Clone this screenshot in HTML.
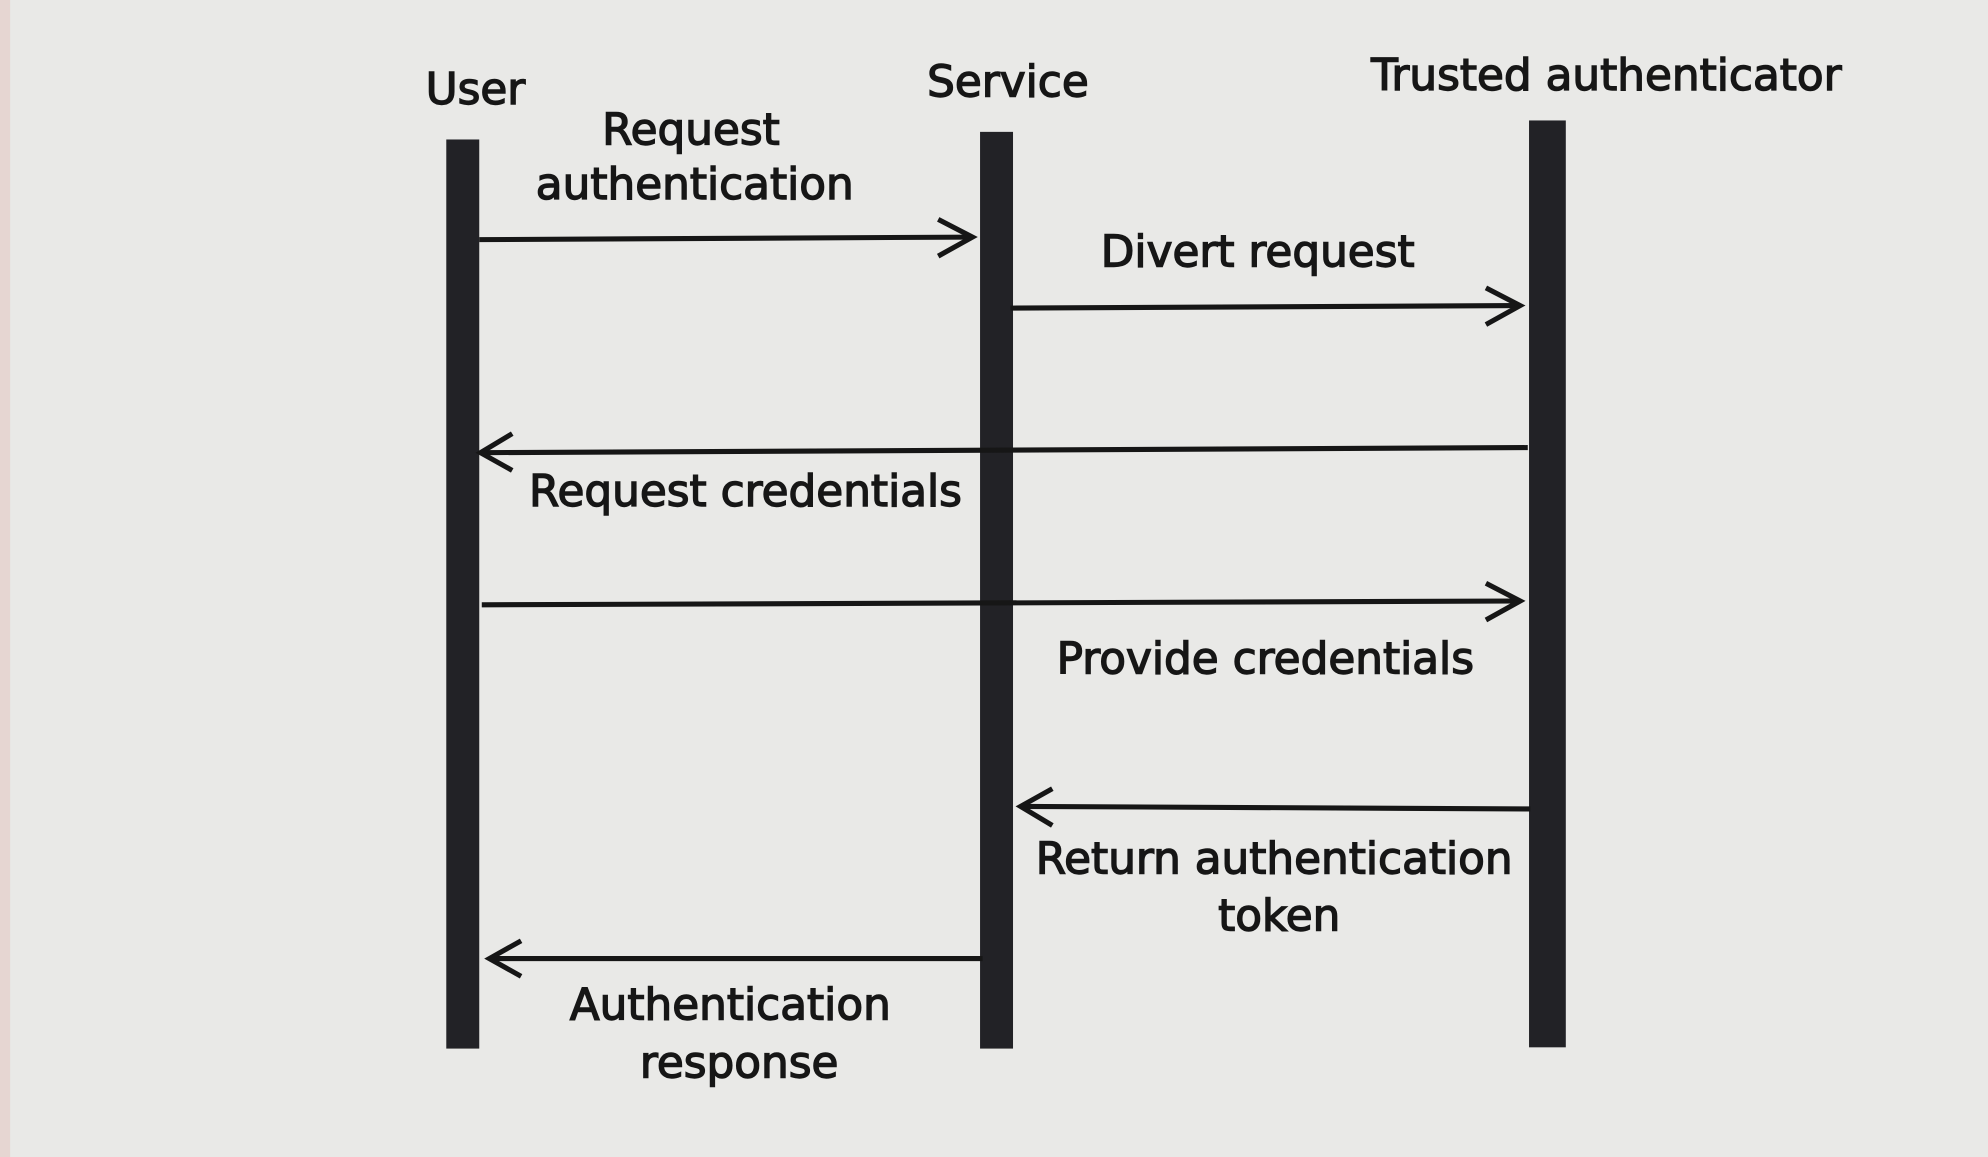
<!DOCTYPE html>
<html><head><meta charset="utf-8"><style>
html,body{margin:0;padding:0;background:#e9e9e7;}
svg{display:block;}
text{font-family:"DejaVu Sans","Liberation Sans",sans-serif;font-size:34.5px;fill:#161616;text-anchor:middle;stroke:#161616;stroke-width:1.1px;}
</style></head><body>
<svg width="1988" height="1157" viewBox="0 0 1568 912.5" preserveAspectRatio="none">
<rect x="0" y="0" width="1568" height="912.5" fill="#e9e9e7"/>
<rect x="0" y="0" width="8" height="912.5" fill="#e6d6d2"/>
<g fill="#222226">
<rect x="352" y="110" width="26" height="717"/>
<rect x="773" y="104" width="26" height="723"/>
<rect x="1206" y="95" width="29" height="731"/>
</g>
<text x="375" y="82">User</text>
<text x="795" y="76">Service</text>
<text x="1267" y="71">Trusted authenticator</text>
<text x="545" y="114">Request</text>
<text x="548" y="157">authentication</text>
<text x="992" y="210">Divert request</text>
<text x="588" y="399">Request credentials</text>
<text x="998" y="531">Provide credentials</text>
<text x="1005" y="689">Return authentication</text>
<text x="1009" y="734">token</text>
<text x="576" y="804">Authentication</text>
<text x="583" y="850">response</text>
<g stroke="#161616" stroke-width="4" fill="none">
<line x1="378" y1="189" x2="765" y2="187"/>
<polyline points="740,173 767,187 740,202"/>
<line x1="797" y1="243" x2="1198" y2="241"/>
<polyline points="1172,227 1199,241 1172,256"/>
<line x1="1205" y1="353" x2="380" y2="357"/>
<polyline points="404,342 379,357 404,371"/>
<line x1="380" y1="477" x2="1198" y2="474"/>
<polyline points="1172,460 1199,474 1172,489"/>
<line x1="1207" y1="638" x2="806" y2="636"/>
<polyline points="830,622 805,636 830,651"/>
<line x1="775" y1="756" x2="387" y2="756"/>
<polyline points="411,742 386,756 411,770"/>
</g>
</svg>
</body></html>
